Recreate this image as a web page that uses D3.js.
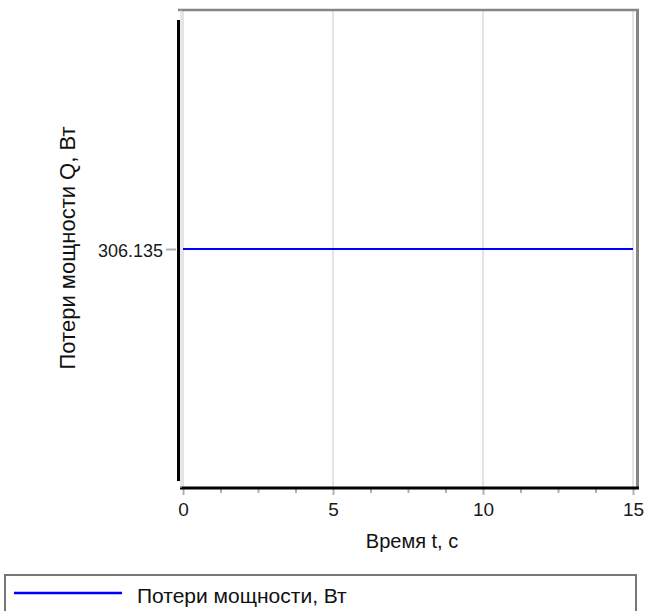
<!DOCTYPE html>
<html><head><meta charset="utf-8">
<script src="https://cdn.jsdelivr.net/npm/d3@7"></script>
<style>
body{margin:0;background:#fff;}
svg text{font-family:"Liberation Sans",Arial,sans-serif;}
</style></head>
<body><svg id="c" width="646" height="611"></svg>
<script>
const times = [0, 15];
const losses = [306.135, 306.135];
const xTicks = [0, 5, 10, 15];
const xMinor = [1.25, 2.5, 3.75, 6.25, 7.5, 8.75, 11.25, 12.5, 13.75];
const yTicks = [306.135];
const seriesName = "Потери мощности, Вт";
const xTitle = "Время t, с";
const yTitle = "Потери мощности Q, Вт";

const svg = d3.select("#c");
const x = d3.scaleLinear().domain([0, 15]).range([183, 633]);
const y = d3.scaleLinear().domain([306.135 - 1, 306.135 + 1]).range([488, 10]);

// grid
svg.append("g").selectAll("line").data(xTicks).join("line")
  .attr("x1", d => x(d)).attr("x2", d => x(d)).attr("y1", 10).attr("y2", 488)
  .attr("stroke", "#c8c8c8").attr("stroke-width", 1);

// frame top/right
svg.append("line").attr("x1", 178).attr("x2", 639).attr("y1", 10).attr("y2", 10)
  .attr("stroke", "#858585").attr("stroke-width", 2.5);
svg.append("line").attr("x1", 637.5).attr("x2", 637.5).attr("y1", 9).attr("y2", 489)
  .attr("stroke", "#858585").attr("stroke-width", 3);

// series
const line = d3.line().x((d, i) => x(times[i])).y(d => y(d));
svg.append("path").datum(losses).attr("d", line)
  .attr("fill", "none").attr("stroke", "#0000ff").attr("stroke-width", 2);

// x axis
const xAxis = d3.axisBottom(x).tickValues(xTicks).tickFormat(d3.format("d")).tickSize(6).tickPadding(8);
const gx = svg.append("g").attr("transform", "translate(0,489)").call(xAxis);
gx.select(".domain").remove();
gx.selectAll(".tick line").attr("stroke", "#b0b0b0").attr("stroke-width", 2);
gx.selectAll(".tick text").attr("font-size", 19).attr("fill", "#1a1a1a").style("font-family", "Liberation Sans, Arial, sans-serif");
const xAxisMinor = d3.axisBottom(x).tickValues(xMinor).tickFormat("").tickSize(4);
const gxm = svg.append("g").attr("transform", "translate(0,489)").call(xAxisMinor);
gxm.select(".domain").remove();
gxm.selectAll(".tick line").attr("stroke", "#b0b0b0").attr("stroke-width", 2);
svg.append("line").attr("x1", 180).attr("x2", 639).attr("y1", 488).attr("y2", 488)
  .attr("stroke", "#000").attr("stroke-width", 3);

// y axis
const yAxis = d3.axisLeft(y).tickValues(yTicks).tickFormat(d3.format(".3f")).tickSize(10).tickPadding(3);
const gy = svg.append("g").attr("transform", "translate(176,0)").call(yAxis);
gy.select(".domain").remove();
gy.selectAll(".tick line").attr("stroke", "#b0b0b0").attr("stroke-width", 2);
gy.selectAll(".tick text").attr("font-size", 18).attr("fill", "#1a1a1a").attr("dy", "0.4em").style("font-family", "Liberation Sans, Arial, sans-serif");
svg.append("line").attr("x1", 178.5).attr("x2", 178.5).attr("y1", 20).attr("y2", 481)
  .attr("stroke", "#000").attr("stroke-width", 3);
svg.append("line").attr("x1", 181).attr("x2", 181).attr("y1", 10).attr("y2", 488)
  .attr("stroke", "#d0d0d0").attr("stroke-width", 1);

// titles
svg.append("text").attr("x", 412).attr("y", 548).attr("text-anchor", "middle")
  .attr("font-size", 20).attr("fill", "#111").text(xTitle);
svg.append("text").attr("transform", "translate(75,248) rotate(-90)").attr("text-anchor", "middle")
  .attr("font-size", 22).attr("fill", "#111").text(yTitle);

// legend
svg.append("rect").attr("x", 5).attr("y", 575).attr("width", 631).attr("height", 60)
  .attr("fill", "#fff").attr("stroke", "#777").attr("stroke-width", 2);
svg.append("line").attr("x1", 14).attr("x2", 122).attr("y1", 593).attr("y2", 593)
  .attr("stroke", "#0000ff").attr("stroke-width", 2.5);
svg.append("text").attr("x", 137).attr("y", 603).attr("font-size", 21).attr("fill", "#111").text(seriesName);
</script></body></html>
